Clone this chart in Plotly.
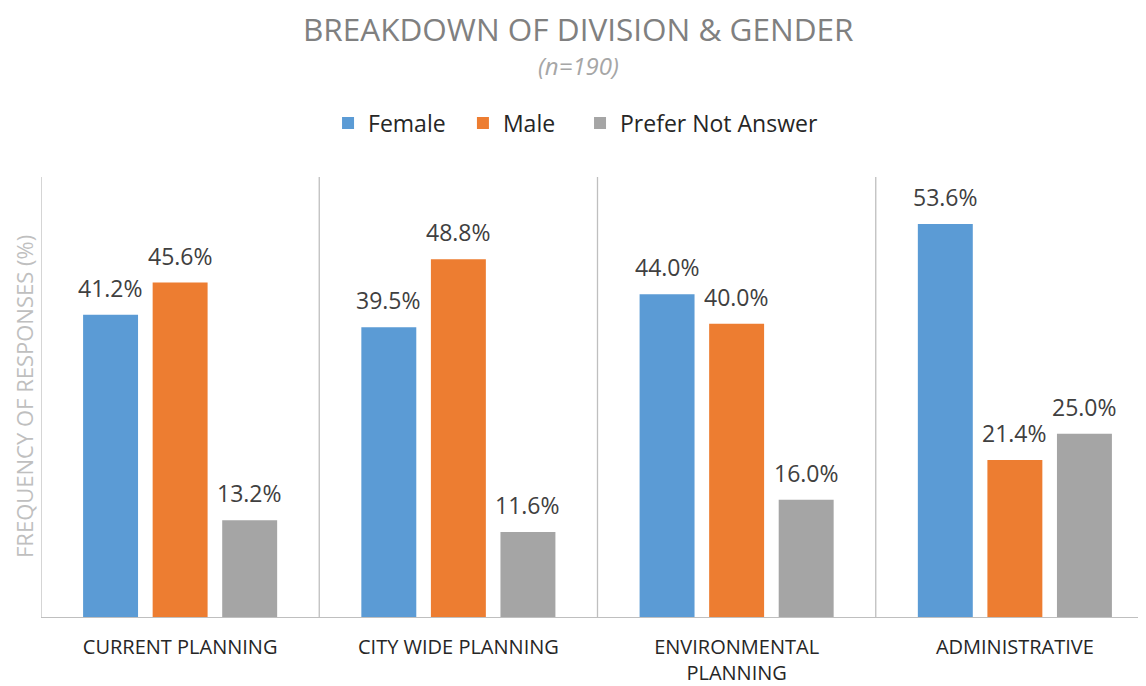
import plotly.graph_objects as go

categories = ["CURRENT PLANNING", "CITY WIDE PLANNING", "ENVIRONMENTAL<br>PLANNING", "ADMINISTRATIVE"]
female = [41.2, 39.5, 44.0, 53.6]
male = [45.6, 48.8, 40.0, 21.4]
prefer_not = [13.2, 11.6, 16.0, 25.0]
series_names = ["Female", "Male", "Prefer Not Answer"]
colors = ["#5b9bd5", "#ed7d31", "#a5a5a5"]

FONT = "Open Sans"
BARGAP = 0.25
GROUPGAP = 0.21

legend_ids = ["legend", "legend2", "legend3"]
legend_x = [0.2579, 0.3791, 0.4843]

fig = go.Figure()
all_series = [female, male, prefer_not]
for name, vals, col, lg in zip(series_names, all_series, colors, legend_ids):
    fig.add_trace(go.Bar(
        name=name, x=categories, y=vals, marker=dict(color=col, line=dict(width=0)),
        legend=lg,
    ))

annotations = []
slot = (1 - BARGAP) / 3
for j, vals in enumerate(all_series):
    for i, v in enumerate(vals):
        annotations.append(dict(
            x=i + (j - 1) * slot, y=v, xref="x", yref="y",
            text=f"{v:.1f}%", showarrow=False, yanchor="middle", yshift=27,
            font=dict(family=FONT, size=23, color="#404040"),
        ))

annotations.append(dict(
    text="BREAKDOWN OF DIVISION & GENDER", x=0.4825, y=1.3375, xref="paper", yref="paper",
    showarrow=False, yanchor="middle", borderpad=0,
    font=dict(family=FONT, size=31.5, color="#808080"),
))
annotations.append(dict(
    text="<i>(n=190)</i>", x=0.4825, y=1.2523, xref="paper", yref="paper",
    showarrow=False, yanchor="middle", borderpad=0,
    font=dict(family=FONT, size=24, color="#a6a6a6"),
))
annotations.append(dict(
    text="FREQUENCY OF RESPONSES (%)", x=0, y=0.5, xref="paper", yref="paper",
    showarrow=False, textangle=-90, xanchor="left", xshift=-33, yanchor="middle",
    borderpad=0, font=dict(family=FONT, size=22, color="#bfbfbf"),
))

shapes = []
for k in range(len(categories)):
    shapes.append(dict(
        type="line", xref="x", yref="paper", x0=k - 0.5, x1=k - 0.5, y0=0, y1=1,
        line=dict(color="#bfbfbf", width=1.3),
    ))

legend_style = dict(orientation="h", xanchor="left", y=1.1227, yanchor="middle",
                    font=dict(family=FONT, size=23, color="#262626"),
                    itemsizing="constant", bgcolor="rgba(0,0,0,0)")

fig.update_layout(
    width=1146, height=686,
    margin=dict(l=33, r=0, t=169, b=77),
    paper_bgcolor="white", plot_bgcolor="white",
    barmode="group", bargap=BARGAP, bargroupgap=GROUPGAP,
    legend=dict(x=legend_x[0], **legend_style),
    legend2=dict(x=legend_x[1], **legend_style),
    legend3=dict(x=legend_x[2], **legend_style),
    annotations=annotations,
    shapes=shapes,
    xaxis=dict(range=[-0.5, 3.5], showline=True, linecolor="#bfbfbf", linewidth=1.3,
               ticks="", tickfont=dict(family=FONT, size=20, color="#262626"),
               ticklabelstandoff=12, showgrid=False),
    yaxis=dict(range=[0, 60], showticklabels=False, showgrid=False, zeroline=False,
               showline=False, ticks=""),
    showlegend=True,
)

fig.write_html("out.html")
